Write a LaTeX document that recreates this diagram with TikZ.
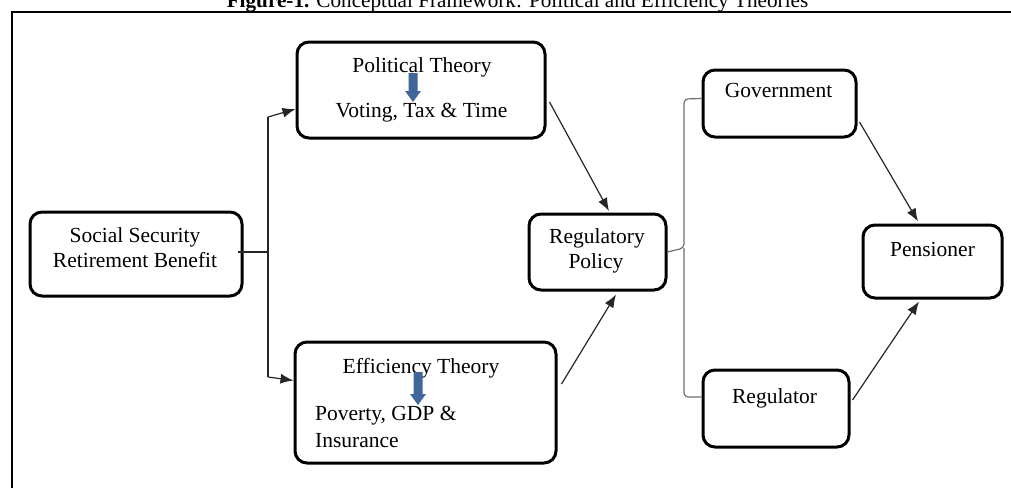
\documentclass[tikz,border=0pt]{standalone}
\usepackage{fontspec}
\setmainfont{Liberation Serif}
\usetikzlibrary{arrows.meta,calc}
\definecolor{arrowblue}{HTML}{41679A}
\definecolor{bracketgray}{HTML}{6E6E6E}
\definecolor{linegray}{HTML}{262626}
\tikzset{
  box/.style={draw, line width=3pt, rounded corners=12pt, inner sep=0pt},
  txt/.style={anchor=base, inner sep=0pt, font=\fontsize{21.5}{26}\selectfont},
  txtl/.style={anchor=base west, inner sep=0pt, font=\fontsize{21.5}{26}\selectfont},
  conn/.style={draw=linegray, line width=1.2pt, -{Latex[length=13pt,width=10pt]}},
  plain/.style={draw=linegray, line width=1.2pt},
  bracket/.style={draw=bracketgray, line width=1.2pt, rounded corners=4pt},
  frame/.style={line width=2.3pt}
}
\begin{document}
\begin{tikzpicture}[x=1pt,y=-1pt]
\useasboundingbox (0,0) rectangle (1011,488);
% frame and title
\draw[frame] (12,488) -- (12,12) -- (1011,12);
\node[anchor=base, inner sep=0pt, font=\fontsize{21.2}{25}\selectfont] (title) at (517.5,7) {\textbf{Figure-1.} Conceptual Framework: Political and Efficiency Theories};
% boxes
\node[box, minimum width=212pt, minimum height=84pt] (ssb) at (136,254) {};
\node[box, minimum width=248pt, minimum height=96pt] (pol) at (421,90) {};
\node[box, minimum width=261pt, minimum height=121pt] (eff) at (425.5,402.5) {};
\node[box, minimum width=137pt, minimum height=76pt] (reg) at (597.5,252) {};
\node[box, minimum width=153pt, minimum height=67pt] (gov) at (779.5,103.5) {};
\node[box, minimum width=146pt, minimum height=77pt] (rgl) at (776,408.5) {};
\node[box, minimum width=139pt, minimum height=73pt] (pen) at (932.5,261.5) {};
% texts
\node[txt] (ssb1) at (135,242) {Social Security};
\node[txt] (ssb2) at (135,267) {Retirement Benefit};
\node[txt] (pol1) at (422,72) {Political Theory};
\node[txt] (pol2) at (421.5,117) {Voting, Tax \& Time};
\node[txt] (eff1) at (421,373) {Efficiency Theory};
\node[txtl] (eff2) at (315,420) {Poverty, GDP \&};
\node[txtl] (eff3) at (315,447) {Insurance};
\node[txt] (reg1) at (597,243) {Regulatory};
\node[txt] (reg2) at (596,268) {Policy};
\node[txt] (gov1) at (778.5,97) {Government};
\node[txt] (rgl1) at (774.5,403) {Regulator};
\node[txt] (pen1) at (932.5,256) {Pensioner};
% blue arrows inside theory boxes
\fill[arrowblue] (408.5,73) -- (417.5,73) -- (417.5,91) -- (421,91) -- (413,102) -- (405,91) -- (408.5,91) -- cycle;
\fill[arrowblue] (413.5,372) -- (422.5,372) -- (422.5,394) -- (426,394) -- (418,405) -- (410,394) -- (413.5,394) -- cycle;
% split from Social Security
\coordinate (j1) at (268,252);
\coordinate (j1t) at (268,117);
\coordinate (j1b) at (268,377);
\draw[plain] ($(ssb.east)+(-6,-2)$) -- (j1);
\draw[plain] (j1t) -- (j1b);
\draw[conn] (j1t) -- ($(pol.west)+(0,19)$);
\draw[conn] (j1b) -- ($(eff.west)+(0,-22)$);
% theories to regulatory policy
\draw[conn] ($(pol.east)+(3,12)$) -- ($(reg.north)+(11.5,-1.5)$);
\draw[conn] ($(eff.east)+(4,-18.5)$) -- ($(reg.south)+(18.5,3)$);
% bracket from regulatory policy
\coordinate (br) at (684,248);
\draw[bracket] (reg.east) -- (br) -- (684,99) -- ($(gov.west)+(0,-5)$);
\draw[bracket] (br) -- (684,397) -- ($(rgl.west)+(0,-11.5)$);
% to pensioner
\draw[conn] ($(gov.east)+(2,18.5)$) -- ($(pen.north)+(-14.5,-2)$);
\draw[conn] ($(rgl.east)+(2,-8.5)$) -- ($(pen.south)+(-13.5,2)$);
\end{tikzpicture}
\end{document}
